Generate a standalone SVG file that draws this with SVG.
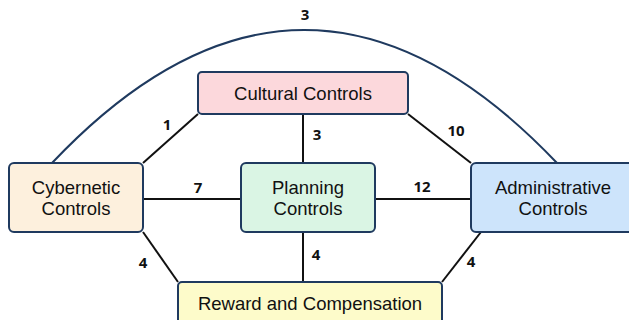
<svg xmlns="http://www.w3.org/2000/svg" width="629" height="320" viewBox="0 0 629 320">
<style>
.box{stroke:#1f3a5f;stroke-width:2}
.t{font-family:"Liberation Sans",Arial,sans-serif;font-size:18.5px;fill:#111;text-anchor:middle}
.l{font-family:"Open Sans","Liberation Sans",Arial,sans-serif;font-size:15px;font-weight:bold;fill:#111;text-anchor:middle}
.c{stroke:#111;stroke-width:2;fill:none}
</style>
<rect width="629" height="320" fill="#ffffff"/>
<g id="connectors">
<path d="M52,163 Q304,-103 557,163" fill="none" stroke="#1f3a5f" stroke-width="2"/>
<line class="c" x1="143" y1="163" x2="198" y2="114"/>
<line class="c" x1="303" y1="114" x2="303" y2="163"/>
<line class="c" x1="408" y1="114" x2="471" y2="163"/>
<line class="c" x1="143" y1="199" x2="241" y2="199"/>
<line class="c" x1="375" y1="199" x2="471" y2="199"/>
<line class="c" x1="143" y1="232" x2="178" y2="282"/>
<line class="c" x1="303" y1="232" x2="303" y2="282"/>
<line class="c" x1="481" y1="232" x2="442" y2="282"/>
<text class="l" x="305" y="20">3</text>
<text class="l" x="167" y="130">1</text>
<text class="l" x="317" y="140">3</text>
<text class="l" x="456" y="136">10</text>
<text class="l" x="198" y="193">7</text>
<text class="l" x="422" y="192">12</text>
<text class="l" x="143" y="268">4</text>
<text class="l" x="316" y="260">4</text>
<text class="l" x="471" y="267">4</text>
</g>
<g id="cultural">
<rect class="box" x="198" y="72" width="210" height="42" rx="4" fill="#fcd8dc"/>
<text class="t" x="303" y="100">Cultural Controls</text>
</g>
<g id="cybernetic">
<rect class="box" x="9" y="163" width="134" height="69" rx="5" fill="#fdf0dd"/>
<text class="t" x="76" y="194">Cybernetic</text>
<text class="t" x="76" y="215">Controls</text>
</g>
<g id="planning">
<rect class="box" x="241" y="163" width="134" height="69" rx="5" fill="#daf5e4"/>
<text class="t" x="308" y="194">Planning</text>
<text class="t" x="308" y="215">Controls</text>
</g>
<g id="administrative">
<rect class="box" x="471" y="163" width="164" height="69" rx="5" fill="#cde4fb"/>
<text class="t" x="553" y="194">Administrative</text>
<text class="t" x="553" y="215">Controls</text>
</g>
<g id="reward">
<rect class="box" x="178" y="282" width="264" height="50" rx="4" fill="#fdfbca"/>
<text class="t" x="310" y="310">Reward and Compensation</text>
</g>
</svg>
